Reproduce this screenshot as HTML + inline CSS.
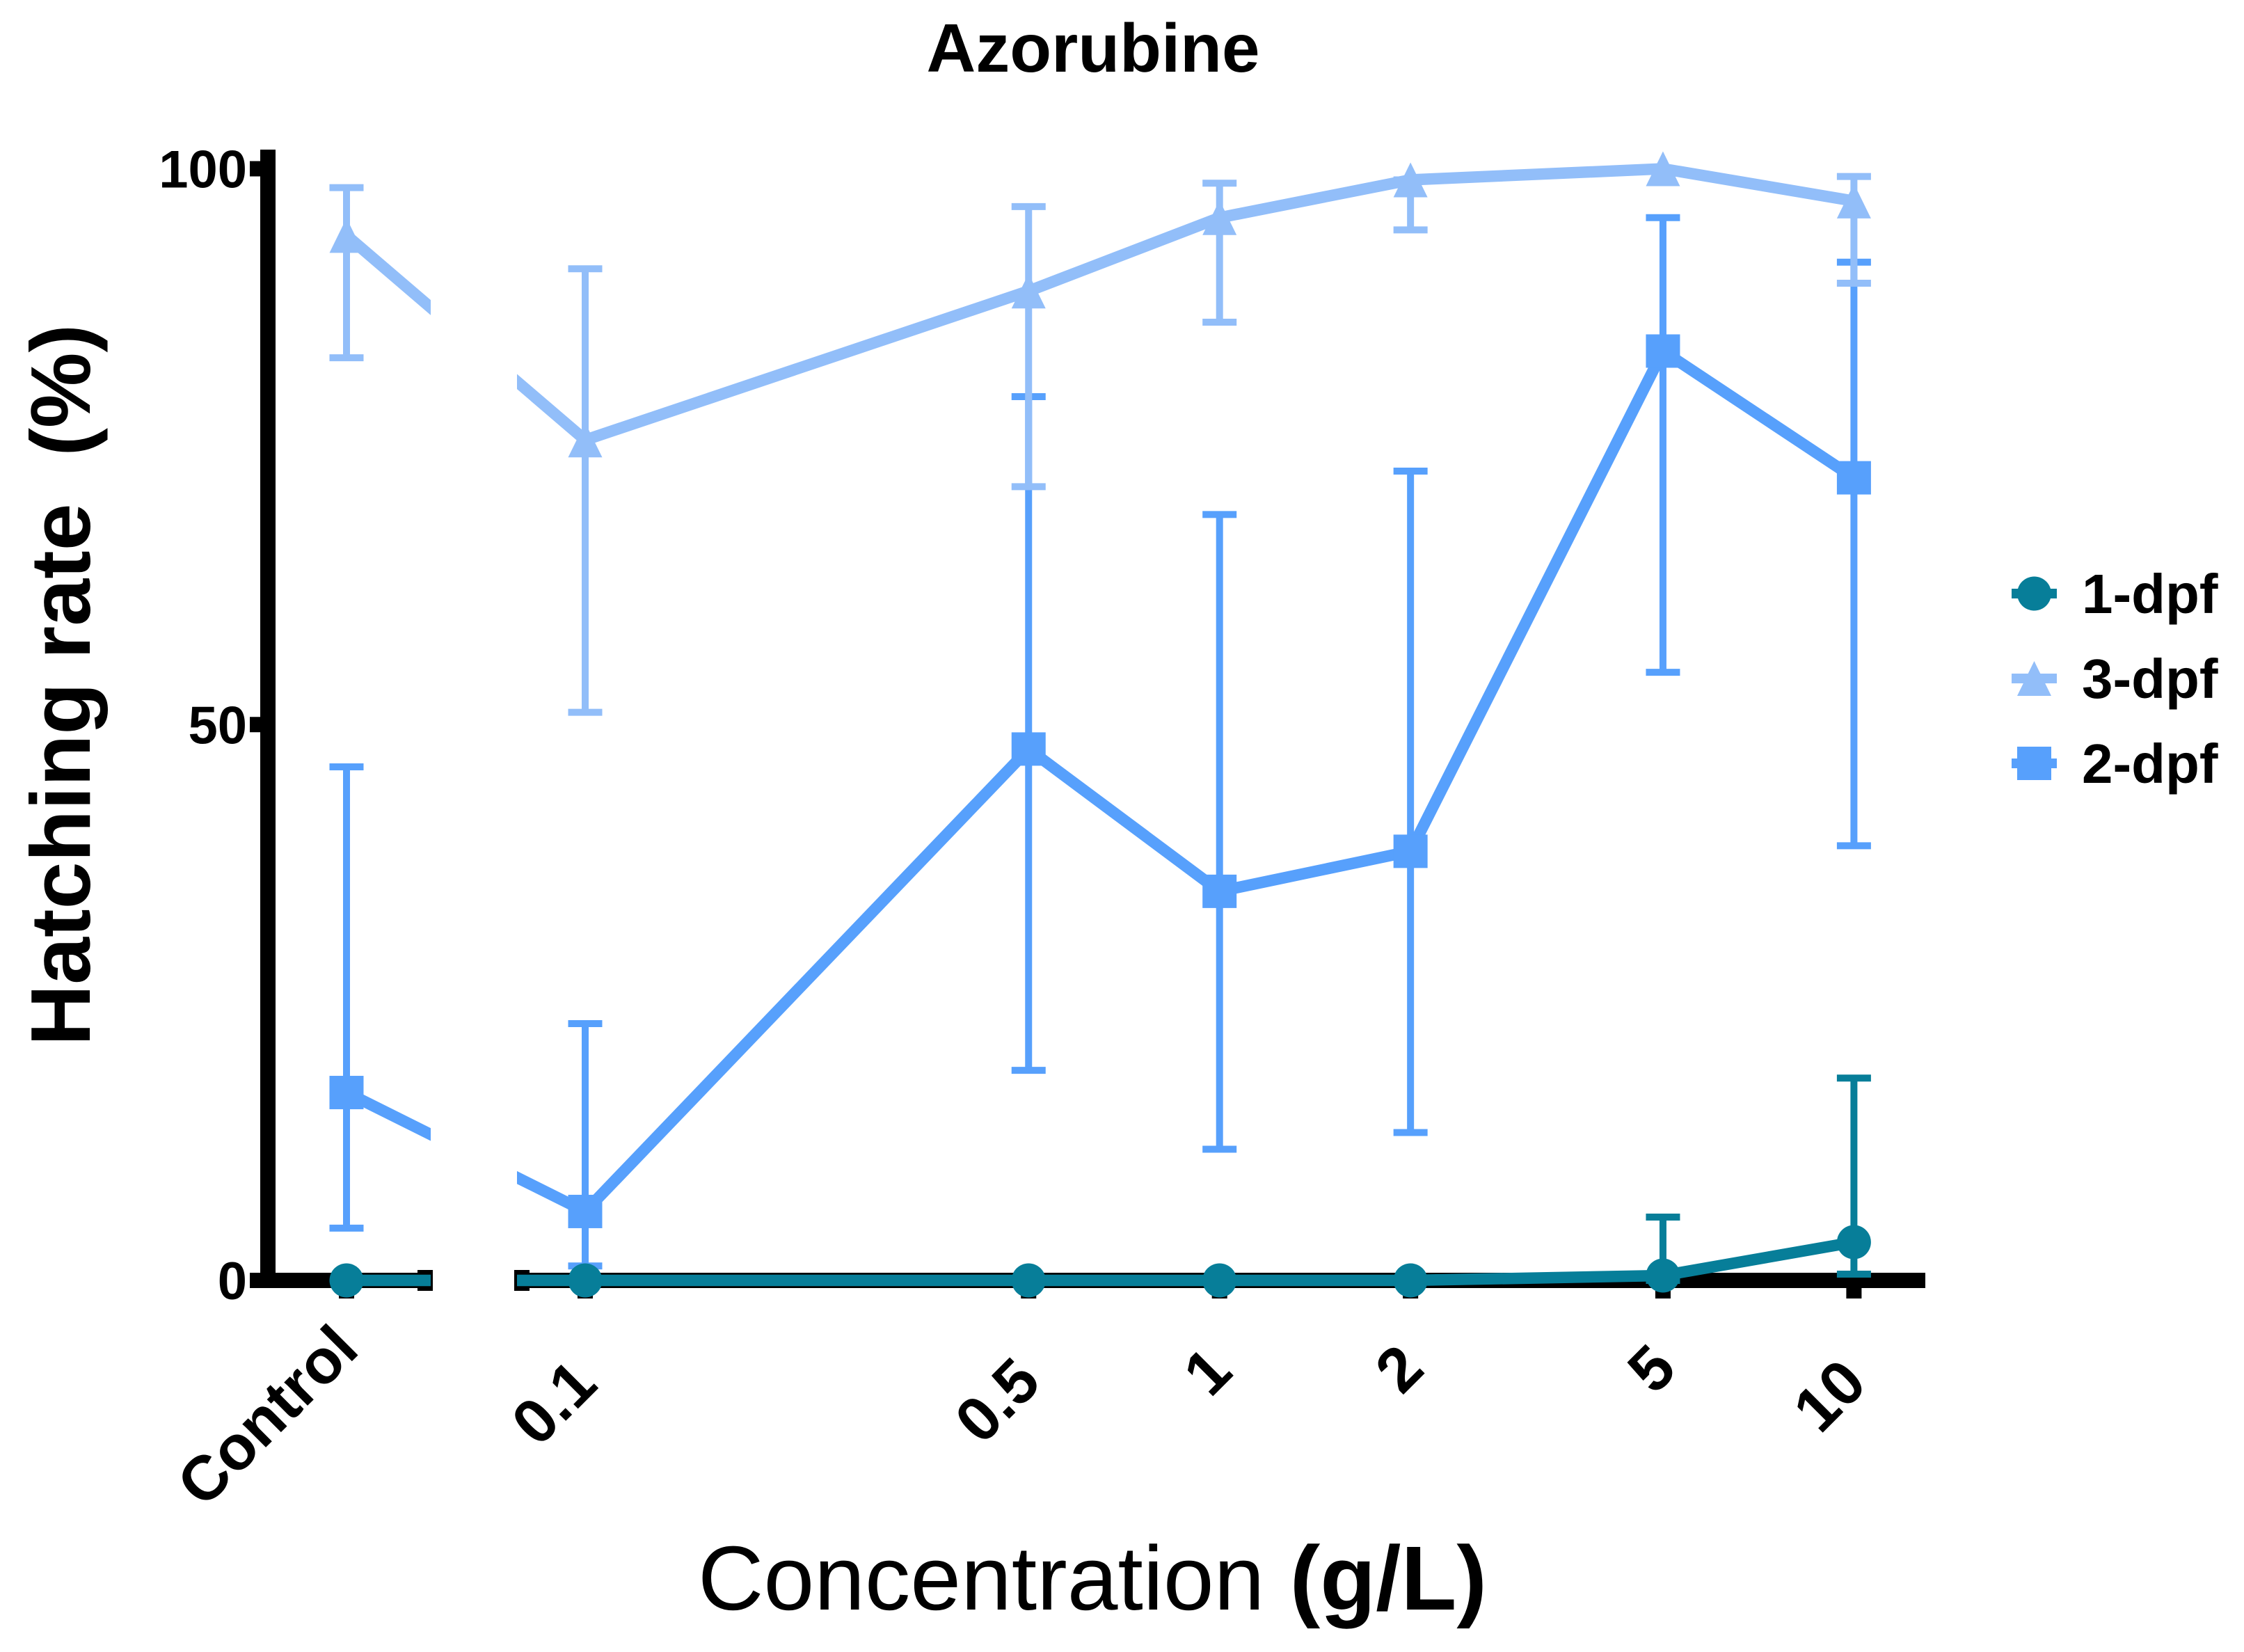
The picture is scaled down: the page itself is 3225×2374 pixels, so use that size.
<!DOCTYPE html>
<html lang="en">
<head>
<meta charset="utf-8">
<title>Azorubine hatching rate</title>
<style>
  html, body { margin: 0; padding: 0; background: #ffffff; }
  svg { display: block; }
  text { font-family: "Liberation Sans", Arial, sans-serif; fill: #000000; }
</style>
</head>
<body>
<svg id="chart" xmlns="http://www.w3.org/2000/svg" width="3225" height="2374" viewBox="0 0 3225 2374">
  <rect x="0" y="0" width="3225" height="2374" fill="#ffffff"/>
  <defs>
    <clipPath id="axis-break-clip">
      <rect x="0" y="0" width="619" height="2374"/>
      <rect x="743" y="0" width="2482" height="2374"/>
    </clipPath>
  </defs>
  <text x="1571" y="103" font-size="98" font-weight="700" text-anchor="middle">Azorubine</text>
  <text transform="translate(129 1503) rotate(-90)" font-size="122" font-weight="700" xml:space="preserve" style="white-space:pre">Hatching rate  (%)</text>
  <text x="1003" y="2313" font-size="130.8" xml:space="preserve" style="white-space:pre">Concentration <tspan font-weight="700">(g/L)</tspan></text>
  <g id="axes"></g>
  <g id="series"></g>
  <g id="legend"></g>
</svg>
<script>
// ---- chart data ----
const categories = ['Control', '0.1', '0.5', '1', '2', '5', '10'];
const concentrations = [null, 0.1, 0.5, 1, 2, 5, 10];
const yTicks = [0, 50, 100];

const dpf1Values = [0, 0, 0, 0, 0, 0.44, 3.44];
const dpf1High   = [null, null, null, null, null, 5.7, 18.2];
const dpf1Low    = [null, null, null, null, null, 0, 0.56];

const dpf3Values = [94.0, 75.6, 89.0, 95.6, 99.0, 100, 97.1];
const dpf3High   = [98.3, 91.0, 96.6, 98.7, 99.0, null, 99.3];
const dpf3Low    = [83.0, 51.1, 71.4, 86.2, 94.5, null, 89.7];

const dpf2Values = [16.9, 6.2, 47.8, 35.0, 38.6, 83.6, 72.2];
const dpf2High   = [46.2, 23.1, 79.5, 68.9, 72.8, 95.6, 91.6];
const dpf2Low    = [4.7, 1.3, 18.9, 11.8, 13.3, 54.7, 39.1];

// ---- axis functions ----
function yScale(v) { return 1840 - 15.975 * v; }
function xScale(i) {
  const c = concentrations[i];
  if (c === null) return 498;
  return 841 + 911.7 * Math.log10(c / 0.1);
}

// ---- helpers ----
const NS = 'http://www.w3.org/2000/svg';
function make(tag, attrs, parent) {
  const el = document.createElementNS(NS, tag);
  for (const k in attrs) el.setAttribute(k, attrs[k]);
  parent.appendChild(el);
  return el;
}
function drawMarker(shape, x, y, color, parent) {
  if (shape === 'circle') return make('circle', { cx: x, cy: y, r: 24.5, fill: color }, parent);
  if (shape === 'square') return make('rect', { x: x - 24.5, y: y - 24, width: 49, height: 48, fill: color }, parent);
  return make('polygon', { points: (x - 24.5) + ',' + (y + 25) + ' ' + x + ',' + (y - 25) + ' ' + (x + 24.5) + ',' + (y + 25), fill: color }, parent);
}

// ---- axes ----
const axes = document.getElementById('axes');

const yAxisLine = make('rect', { x: 374, y: 215, width: 22, height: 1636, fill: '#000' }, axes);



const xAxisLeft = make('rect', { x: 374, y: 1829, width: 248, height: 22, fill: '#000' }, axes);



const xAxisRight = make('rect', { x: 739, y: 1829, width: 2028, height: 22, fill: '#000' }, axes);



const breakLeft = make('rect', { x: 600, y: 1825, width: 22, height: 30, fill: '#000' }, axes);



const breakRight = make('rect', { x: 739, y: 1825, width: 22, height: 30, fill: '#000' }, axes);



yTicks.forEach(function (t) {
  const y = yScale(t);
  const tick = make('rect', { x: 359, y: y - 11, width: 20, height: 22, fill: '#000' }, axes);
  
  
  const label = make('text', { x: 355, y: y + 27, 'font-size': 76, 'font-weight': 700, 'text-anchor': 'end' }, axes);
  label.textContent = String(t);
  
  
});

// end point of each slanted label, relative to its tick / absolute baseline row
const labelShiftX = { 'Control': 21, '0.1': 21, '0.5': 21, '1': 22, '2': 23, '5': 23, '10': 22 };
const labelBaseY  = { 'Control': 1943, '0.1': 1993, '0.5': 1990, '1': 1975, '2': 1971, '5': 1971, '10': 1992 };

categories.forEach(function (name, i) {
  const x = xScale(i);
  const tick = make('rect', { x: x - 11, y: 1845, width: 22, height: 21, fill: '#000' }, axes);
  
  
  const lx = x + labelShiftX[name];
  const ly = labelBaseY[name];
  const label = make('text', { transform: 'translate(' + lx + ' ' + ly + ') rotate(-45)', 'font-size': 90, 'font-weight': 700, 'text-anchor': 'end' }, axes);
  label.textContent = name;
  
  
});

// ---- series (drawn back to front) ----
const seriesRoot = document.getElementById('series');
function drawSeries(key, color, shape, values, high, low, width) {
  const g = make('g', {}, seriesRoot);
  
  

  values.forEach(function (v, i) {
    const x = xScale(i);
    const hi = high[i];
    const lo = low[i];
    if (hi === null || lo === null) return;
    const stem = make('line', { x1: x, x2: x, y1: yScale(hi), y2: yScale(lo), stroke: color, 'stroke-width': 10 }, g);
    
    
    const capHi = make('line', { x1: x - 24.5, x2: x + 24.5, y1: yScale(hi), y2: yScale(hi), stroke: color, 'stroke-width': 10 }, g);
    
    
    const capLo = make('line', { x1: x - 24.5, x2: x + 24.5, y1: yScale(lo), y2: yScale(lo), stroke: color, 'stroke-width': 10 }, g);
    
    
  });

  const pts = values.map(function (v, i) { return xScale(i) + ',' + yScale(v); }).join(' ');
  const line = make('polyline', { points: pts, fill: 'none', stroke: color, 'stroke-width': width, 'stroke-linejoin': 'miter', 'clip-path': 'url(#axis-break-clip)' }, g);
  
  

  values.forEach(function (v, i) {
    const m = drawMarker(shape, xScale(i), yScale(v), color, g);
    
    
  });
}

const COLOR_1 = '#077E99';
const COLOR_3 = '#92BEF9';
const COLOR_2 = '#57A0FC';

drawSeries('2-dpf', COLOR_2, 'square', dpf2Values, dpf2High, dpf2Low, 16.5);
drawSeries('3-dpf', COLOR_3, 'triangle', dpf3Values, dpf3High, dpf3Low, 16.5);
drawSeries('1-dpf', COLOR_1, 'circle', dpf1Values, dpf1High, dpf1Low, 16.5);

// ---- legend ----
const legendRoot = document.getElementById('legend');
const legendNames = ['1-dpf', '3-dpf', '2-dpf'];
const legendColors = [COLOR_1, COLOR_3, COLOR_2];
const legendShapes = ['circle', 'triangle', 'square'];
legendNames.forEach(function (name, i) {
  const y = 853 + 122 * i;
  const g = make('g', {}, legendRoot);
  
  
  make('rect', { x: 2891, y: y - 7, width: 65, height: 14, fill: legendColors[i] }, g);
  drawMarker(legendShapes[i], 2923.5, y, legendColors[i], g);
  const t = make('text', { x: 2992, y: y + 28, 'font-size': 80, 'font-weight': 700 }, g);
  t.textContent = name;
  
  
});
</script>
</body>
</html>
